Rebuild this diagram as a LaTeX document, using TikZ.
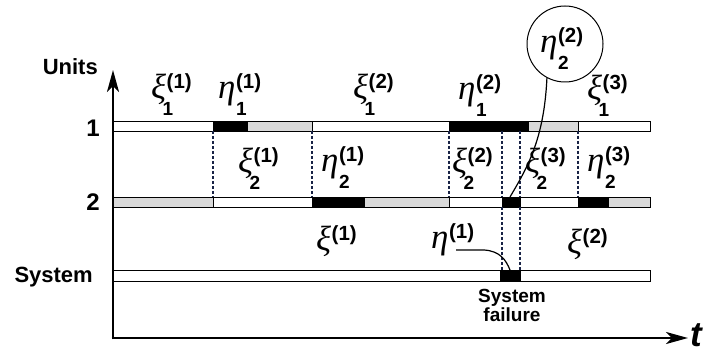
\documentclass[tikz,border=0pt]{standalone}
\usepackage{fontspec}
\setmainfont{Liberation Sans}
\newfontfamily\grk{Liberation Serif}
\usetikzlibrary{arrows.meta}
\definecolor{bandgray}{RGB}{217,217,217}
\definecolor{dotc}{RGB}{25,35,70}
\newcommand\GLb[4]{\hbox{{\grk\itshape\fontsize{35}{35}\selectfont #1}\kern0.5pt\rlap{\kern#2\raisebox{-17pt}{\bfseries\fontsize{19}{19}\selectfont #3}}\raisebox{10pt}{\bfseries\fontsize{20.5}{20.5}\selectfont #4}}}
\newcommand\XIl[2]{\GLb{ξ}{-4pt}{#1}{#2}}
\newcommand\ETAl[2]{\GLb{η}{0pt}{#1}{#2}}
\begin{document}
\begin{tikzpicture}[x=1pt,y=-1pt,
  axisline/.style={line width=2.6pt,-{Stealth[length=22pt,width=12pt,inset=6pt]}},
  segw/.style={draw=black,line width=0.8pt,fill=white},
  segg/.style={draw=black,line width=0.8pt,fill=bandgray},
  segb/.style={draw=black,line width=0.8pt,fill=black},
  dotline/.style={draw=dotc,line width=1.3pt,dash pattern=on 2.6pt off 2.4pt},
  lab/.style={inner sep=0pt,anchor=base west},
  axlab/.style={inner sep=0pt,anchor=base east,font=\bfseries\fontsize{22}{22}\selectfont},
  conn/.style={draw=black,line width=1.2pt}]
\useasboundingbox (0,0) rectangle (708,352);
% unit 1 band
\draw[segw] (113,121) rectangle (213,131);
\draw[segb] (213,121) rectangle (247,131);
\draw[segg] (247,121) rectangle (312,131);
\draw[segw] (312,121) rectangle (449,131);
\draw[segb] (449,121) rectangle (528,131);
\draw[segg] (528,121) rectangle (578,131);
\draw[segw] (578,121) rectangle (650,131);
% unit 2 band
\draw[segg] (113,197) rectangle (213,207);
\draw[segw] (213,197) rectangle (312,207);
\draw[segb] (312,197) rectangle (364,207);
\draw[segg] (364,197) rectangle (449,207);
\draw[segw] (449,197) rectangle (502,207);
\draw[segb] (502,197) rectangle (520,207);
\draw[segw] (520,197) rectangle (578,207);
\draw[segb] (578,197) rectangle (608,207);
\draw[segg] (608,197) rectangle (650,207);
% system band
\draw[segw] (113,270) rectangle (500,281);
\draw[segb] (500,270) rectangle (520,281);
\draw[segw] (520,270) rectangle (650,281);
% dotted lines
\foreach \x in {213,312,449,502,520,578}{\draw[dotline] (\x,131) -- (\x,197);}
\foreach \x in {502,520}{\draw[dotline] (\x,207) -- (\x,270);}
% axes
\coordinate (O) at (113,338);
\coordinate (ytip) at (113,70);
\coordinate (xtip) at (688,338);
\draw[axisline] (113,339.3) -- (ytip);
\draw[axisline] (111.7,338) -- (xtip);
\node[inner sep=0pt,anchor=base west,font=\bfseries\itshape\fontsize{35}{35}\selectfont] (tlab) at (690,346) {t};
\node[axlab] (units) at (98,75) {Units};
\node[axlab,font=\bfseries\fontsize{24}{24}\selectfont] (one) at (100,137) {1};
\node[axlab,font=\bfseries\fontsize{24}{24}\selectfont] (two) at (100,211) {2};
\node[axlab] (sys) at (93,282) {System};
\node[inner sep=0pt,align=center,font=\bfseries\fontsize{19}{19}\selectfont] (fail) at (512,305) {System\\failure};
% labels row 1
\node[lab] (x11) at (151,99) {\XIl{1}{(1)}};
\node[lab] (e11) at (218,99) {\ETAl{1}{(1)}};
\node[lab] (x12) at (353,99) {\XIl{1}{(2)}};
\node[lab] (e12) at (458,100) {\ETAl{1}{(2)}};
\node[lab] (x13) at (587,100) {\XIl{1}{(3)}};
% labels row 2
\node[lab] (x21) at (238,173) {\XIl{2}{(1)}};
\node[lab] (e21) at (321,172) {\ETAl{2}{(1)}};
\node[lab] (x22) at (452,173) {\XIl{2}{(2)}};
\node[lab] (x23) at (525,173) {\XIl{2}{(3)}};
\node[lab] (e23) at (587,172) {\ETAl{2}{(3)}};
% labels row 3
\node[lab] (xs1) at (316,251) {\XIl{}{(1)}};
\node[lab] (es1) at (431,249) {\ETAl{}{(1)}};
\node[lab] (xs2) at (567,254) {\XIl{}{(2)}};
% circle
\node[draw=black,line width=1pt,circle,minimum size=76pt,inner sep=0pt] (circ) at (565,44) {};
\node[lab] (e22) at (540,53) {\ETAl{2}{(2)}};
% connectors
\coordinate (u2fail) at (510,197);
\coordinate (sysfail) at (510,270);
\coordinate (es1end) at (456,250);
\draw[conn] (circ.242) .. controls (544,140) and (527,168) .. (u2fail);
\draw[conn] (es1end) -- (484,250) .. controls (500,251) and (506,260) .. (sysfail);
\end{tikzpicture}
\end{document}
